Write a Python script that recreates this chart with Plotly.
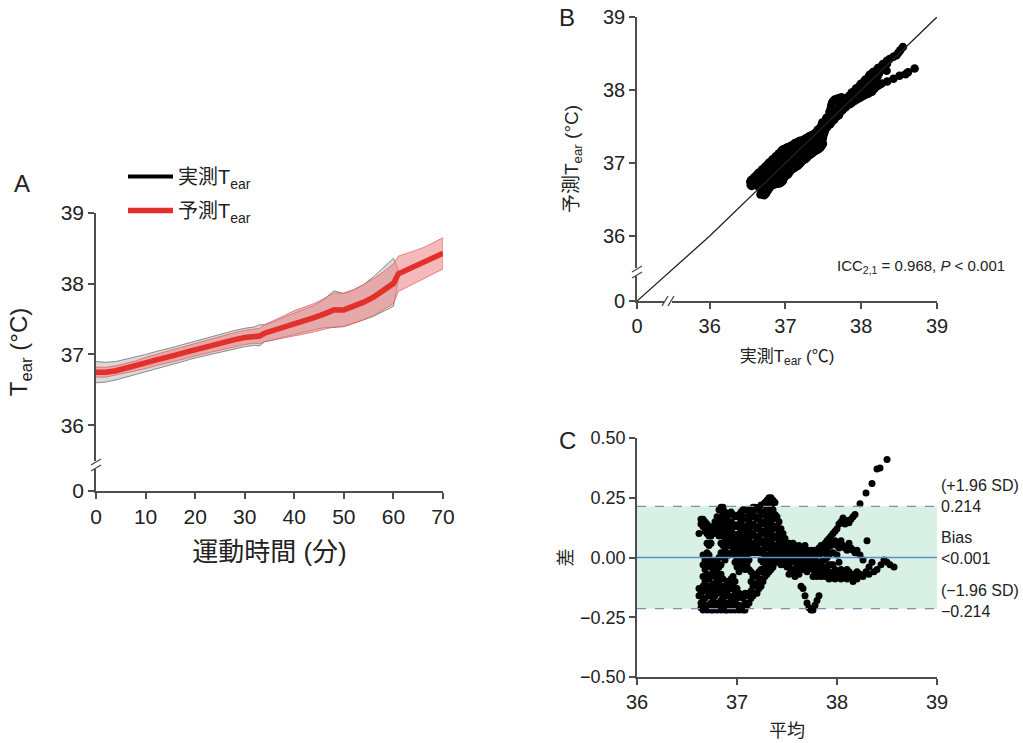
import plotly.graph_objects as go

W, H = 1023, 743
FONT = "Liberation Sans, Arial, Noto Sans CJK JP, sans-serif"
AXC = "#4d4d4d"

# ---------------- Panel A data ----------------
time_min = [0, 2, 4, 6, 8, 10, 12, 14, 16, 18, 20, 22, 24, 26, 28, 30, 32, 33, 34, 36, 38,
            40, 42, 44, 46, 48, 50, 52, 54, 56, 58, 60, 61, 62, 64, 66, 68, 70]
pred_mean = [36.75, 36.75, 36.77, 36.80, 36.84, 36.88, 36.92, 36.95, 36.99, 37.03, 37.07,
             37.10, 37.14, 37.17, 37.21, 37.24, 37.26, 37.26, 37.30, 37.34, 37.39, 37.44,
             37.48, 37.52, 37.57, 37.63, 37.63, 37.68, 37.74, 37.81, 37.90, 38.00, 38.14,
             38.17, 38.23, 38.29, 38.36, 38.43]
pred_sd = [0.07, 0.07, 0.07, 0.07, 0.07, 0.08, 0.08, 0.08, 0.08, 0.09, 0.09, 0.09, 0.09,
           0.10, 0.10, 0.10, 0.10, 0.11, 0.12, 0.14, 0.16, 0.18, 0.19, 0.20, 0.22, 0.24,
           0.24, 0.24, 0.25, 0.26, 0.27, 0.28, 0.25, 0.24, 0.23, 0.22, 0.22, 0.22]
meas_time = time_min[:33]
meas_mean = [36.75, 36.75, 36.77, 36.80, 36.84, 36.88, 36.92, 36.95, 36.99, 37.03, 37.07,
             37.10, 37.14, 37.17, 37.21, 37.24, 37.26, 37.27, 37.30, 37.34, 37.39, 37.44,
             37.48, 37.52, 37.58, 37.64, 37.63, 37.68, 37.74, 37.82, 37.92, 38.02, 38.13]
meas_sd = [0.15, 0.14, 0.13, 0.13, 0.13, 0.12, 0.12, 0.12, 0.12, 0.12, 0.12, 0.12, 0.12,
           0.13, 0.13, 0.13, 0.13, 0.15, 0.12, 0.13, 0.14, 0.15, 0.16, 0.17, 0.20, 0.26,
           0.23, 0.23, 0.25, 0.28, 0.31, 0.34, 0.06]
a_xticks = [0, 10, 20, 30, 40, 50, 60, 70]
a_yticks = [36, 37, 38, 39]

# ---------------- Panel C data: mean -> list of differences (measured - predicted) ----
ba_columns = [
    (36.62, [0.10, -0.13, -0.16]),
    (36.64, [0.16, 0.14, -0.15, -0.19, -0.21]),
    (36.66, [0.16, 0.13, 0.01, -0.03, -0.08, -0.12, -0.18, -0.22]),
    (36.68, [0.15, 0.11, -0.01, -0.05, -0.10, -0.14, -0.17, -0.21]),
    (36.70, [0.14, 0.10, 0.06, 0.02, -0.03, -0.07, -0.13, -0.20, -0.22]),
    (36.72, [0.13, 0.09, 0.05, 0.01, -0.02, -0.09, -0.12, -0.16, -0.21]),
    (36.74, [0.12, 0.09, 0.06, -0.01, -0.04, -0.08, -0.14, -0.19, -0.22]),
    (36.76, [0.13, 0.10, -0.02, -0.06, -0.11, -0.15, -0.18, -0.22]),
    (36.78, [0.15, 0.11, -0.03, -0.07, -0.12, -0.16, -0.20]),
    (36.80, [0.17, 0.13, 0.10, -0.01, -0.05, -0.09, -0.13, -0.19, -0.22]),
    (36.82, [0.20, 0.16, 0.12, 0.09, 0.00, -0.04, -0.10, -0.15, -0.20]),
    (36.84, [0.21, 0.17, 0.14, 0.10, 0.06, 0.02, -0.03, -0.07, -0.12, -0.18, -0.22]),
    (36.86, [0.21, 0.18, 0.13, 0.09, 0.05, 0.01, -0.09, -0.14, -0.17, -0.21]),
    (36.88, [0.19, 0.15, 0.11, 0.07, 0.03, -0.01, -0.12, -0.16, -0.20, -0.22]),
    (36.90, [0.17, 0.14, 0.10, 0.06, 0.02, -0.10, -0.14, -0.19, -0.22]),
    (36.92, [0.18, 0.13, 0.09, 0.05, 0.01, -0.11, -0.16, -0.21]),
    (36.94, [0.19, 0.15, 0.11, 0.07, -0.09, -0.13, -0.18, -0.22]),
    (36.96, [0.18, 0.14, 0.10, 0.06, 0.03, -0.08, -0.12, -0.17, -0.20]),
    (36.98, [0.17, 0.13, 0.09, 0.05, 0.01, -0.02, -0.10, -0.15, -0.19, -0.22]),
    (37.00, [0.17, 0.13, 0.08, 0.04, 0.00, -0.04, -0.13, -0.17, -0.21]),
    (37.02, [0.18, 0.14, 0.10, 0.06, 0.02, -0.02, -0.06, -0.15, -0.20, -0.22]),
    (37.04, [0.19, 0.15, 0.12, 0.08, 0.04, 0.00, -0.04, -0.16, -0.21]),
    (37.06, [0.20, 0.16, 0.13, 0.09, 0.05, 0.01, -0.03, -0.17, -0.22]),
    (37.08, [0.20, 0.17, 0.13, 0.10, 0.06, 0.02, -0.02, -0.05, -0.15, -0.19, -0.22]),
    (37.10, [0.20, 0.16, 0.12, 0.08, 0.04, 0.00, -0.03, -0.16, -0.20]),
    (37.12, [0.19, 0.15, 0.11, 0.07, 0.03, -0.01, -0.05, -0.15, -0.19]),
    (37.14, [0.20, 0.17, 0.13, 0.09, 0.05, 0.02, -0.06, -0.10, -0.14, -0.17]),
    (37.16, [0.21, 0.18, 0.14, 0.10, 0.06, 0.03, -0.08, -0.12, -0.16]),
    (37.18, [0.21, 0.17, 0.13, 0.09, 0.05, 0.02, -0.07, -0.11, -0.15]),
    (37.20, [0.20, 0.16, 0.12, 0.08, 0.04, -0.08, -0.12, -0.15]),
    (37.22, [0.21, 0.17, 0.13, 0.09, 0.06, 0.02, -0.06, -0.10, -0.13]),
    (37.24, [0.22, 0.19, 0.15, 0.11, 0.07, 0.03, -0.01, -0.05, -0.09, -0.12]),
    (37.26, [0.22, 0.18, 0.14, 0.10, 0.06, 0.02, -0.02, -0.06, -0.10]),
    (37.28, [0.23, 0.19, 0.15, 0.11, 0.07, 0.04, 0.00, -0.04, -0.08]),
    (37.30, [0.24, 0.20, 0.16, 0.12, 0.08, 0.04, 0.01, -0.03, -0.07]),
    (37.32, [0.25, 0.21, 0.17, 0.13, 0.09, 0.05, 0.01, -0.02, -0.06]),
    (37.34, [0.25, 0.22, 0.18, 0.14, 0.10, 0.06, 0.03, -0.01, -0.05]),
    (37.36, [0.24, 0.20, 0.16, 0.12, 0.08, 0.04, 0.00, -0.04]),
    (37.38, [0.23, 0.18, 0.13, 0.09, 0.05, 0.01, -0.02]),
    (37.40, [0.17, 0.13, 0.09, 0.05, 0.02, -0.02]),
    (37.42, [0.15, 0.11, 0.07, 0.03, -0.01]),
    (37.44, [0.12, 0.08, 0.04, 0.00, -0.03]),
    (37.46, [0.10, 0.06, 0.02, -0.02]),
    (37.48, [0.08, 0.04, 0.00, -0.03]),
    (37.50, [0.05, 0.02, -0.01, -0.04]),
    (37.52, [0.06, 0.03, 0.00, -0.04, -0.07]),
    (37.54, [0.04, 0.01, -0.02, -0.05]),
    (37.56, [0.06, 0.03, -0.01, -0.05]),
    (37.58, [0.05, 0.02, -0.02, -0.06, -0.08]),
    (37.60, [0.04, 0.01, -0.03, -0.06]),
    (37.62, [0.05, 0.02, -0.01, -0.04, -0.07]),
    (37.64, [0.03, 0.00, -0.03, -0.12]),
    (37.66, [0.04, 0.01, -0.02, -0.05, -0.13]),
    (37.68, [0.05, 0.02, -0.01, -0.04, -0.16]),
    (37.70, [0.03, 0.00, -0.03, -0.06, -0.19]),
    (37.72, [0.02, -0.01, -0.04, -0.21]),
    (37.74, [0.03, 0.00, -0.03, -0.22]),
    (37.76, [0.02, -0.01, -0.05, -0.08, -0.22]),
    (37.78, [0.03, 0.00, -0.04, -0.07, -0.20]),
    (37.80, [0.02, -0.02, -0.05, -0.08, -0.18]),
    (37.82, [0.04, 0.01, -0.03, -0.06, -0.16]),
    (37.84, [0.05, 0.02, -0.02, -0.05, -0.08]),
    (37.86, [0.05, 0.02, -0.01, -0.04, -0.07]),
    (37.88, [0.06, 0.03, -0.01, -0.05, -0.08]),
    (37.90, [0.07, 0.04, 0.00, -0.04, -0.07]),
    (37.92, [0.08, 0.05, 0.01, -0.03, -0.06, -0.09]),
    (37.94, [0.09, 0.05, 0.02, -0.03, -0.07]),
    (37.96, [0.10, 0.06, 0.02, -0.03, -0.08]),
    (37.98, [0.11, 0.07, -0.05, -0.09]),
    (38.00, [0.12, 0.05, 0.01, -0.06]),
    (38.02, [0.14, 0.04, -0.02, -0.08]),
    (38.04, [0.15, 0.07, -0.05, -0.09]),
    (38.06, [0.165, 0.05, -0.06]),
    (38.08, [0.14, 0.04, -0.08]),
    (38.10, [0.155, 0.03, -0.05, -0.09]),
    (38.12, [0.145, 0.06, -0.06]),
    (38.14, [0.16, 0.04, -0.08]),
    (38.16, [0.17, 0.03, -0.07, -0.10]),
    (38.18, [0.18, 0.02, -0.08]),
    (38.20, [0.03, -0.06, -0.09]),
    (38.23, [0.225, 0.01, -0.07]),
    (38.26, [-0.01, -0.08]),
    (38.29, [0.27, -0.06]),
    (38.30, [0.07]),
    (38.32, [-0.07, -0.04]),
    (38.35, [0.31, -0.02]),
    (38.37, [-0.06]),
    (38.40, [0.37, -0.05]),
    (38.43, [0.375]),
    (38.44, [-0.03]),
    (38.47, [-0.01]),
    (38.50, [0.41, -0.02]),
    (38.53, [-0.03]),
    (38.57, [-0.04]),
]
ba_mean = [m for m, ds in ba_columns for _ in ds]
ba_diff = [d for _, ds in ba_columns for d in ds]
bias = 0.0
loa_upper = 0.214
loa_lower = -0.214
c_xticks = [36, 37, 38, 39]
c_yticks = [-0.5, -0.25, 0, 0.25, 0.5]

# Panel B: measured / predicted pairs behind the Bland-Altman points
b_measured = [m + d / 2 for m, d in zip(ba_mean, ba_diff)]
b_predicted = [m - d / 2 for m, d in zip(ba_mean, ba_diff)]
b_ticks = [36, 37, 38, 39]
icc_text = "ICC<sub>2,1</sub> = 0.968, <i>P</i> &lt; 0.001"

# ---------------- layout constants (pixels) ----------------
A_X = (96, 443); A_Y = (491, 213)
B_X = (637, 937); B_Y = (301, 17)
C_X = (637, 937); C_Y = (677, 438)
A_ZERO_Y = 35.07            # where the broken A y-axis shows "0"
B_ZERO_X, B_ZERO_Y = 35.04, 35.11


def dx(px):
    return px / W


def dy(py):
    return 1 - py / H


def dom_x(p):
    return [dx(p[0]), dx(p[1])]


def dom_y(p):
    return [dy(p[0]), dy(p[1])]


fig = go.Figure()

# Panel A
upper = [m + s for m, s in zip(meas_mean, meas_sd)]
lower = [m - s for m, s in zip(meas_mean, meas_sd)]
fig.add_trace(go.Scatter(x=meas_time + meas_time[::-1], y=upper + lower[::-1],
                         fill="toself", fillcolor="rgba(185,185,185,0.55)",
                         line=dict(color="rgba(120,120,120,0.85)", width=1),
                         showlegend=False, hoverinfo="skip", xaxis="x", yaxis="y"))
fig.add_trace(go.Scatter(x=meas_time, y=meas_mean, mode="lines", name="実測T<sub>ear</sub>",
                         line=dict(color="black", width=4), legendgroup="m",
                         xaxis="x", yaxis="y"))
pu = [m + s for m, s in zip(pred_mean, pred_sd)]
pl = [m - s for m, s in zip(pred_mean, pred_sd)]
fig.add_trace(go.Scatter(x=time_min + time_min[::-1], y=pu + pl[::-1],
                         fill="toself", fillcolor="rgba(240,135,135,0.58)",
                         line=dict(color="rgba(225,90,90,0.7)", width=1),
                         showlegend=False, hoverinfo="skip", xaxis="x", yaxis="y"))
fig.add_trace(go.Scatter(x=time_min, y=pred_mean, mode="lines", name="予測T<sub>ear</sub>",
                         line=dict(color="#e3302b", width=5.5), legendgroup="p",
                         xaxis="x", yaxis="y"))

# Panel B
fig.add_trace(go.Scatter(x=b_measured, y=b_predicted, mode="markers",
                         marker=dict(color="black", size=8.5), showlegend=False,
                         xaxis="x2", yaxis="y2"))
fig.add_trace(go.Scatter(x=[B_ZERO_X, b_ticks[0], b_ticks[-1]],
                         y=[B_ZERO_Y, b_ticks[0], b_ticks[-1]], mode="lines",
                         line=dict(color="#222", width=1.3), showlegend=False,
                         xaxis="x2", yaxis="y2", cliponaxis=False))

# Panel C
fig.add_trace(go.Scatter(x=ba_mean, y=ba_diff, mode="markers",
                         marker=dict(color="black", size=7), showlegend=False,
                         xaxis="x3", yaxis="y3"))

axis_common = dict(showline=True, linecolor=AXC, linewidth=1.6, ticks="outside",
                   ticklen=6, tickwidth=1.6, tickcolor=AXC, showgrid=False,
                   zeroline=False, automargin=False, color="#222")

fig.update_layout(
    width=W, height=H, margin=dict(l=0, r=0, t=0, b=0),
    paper_bgcolor="white", plot_bgcolor="rgba(0,0,0,0)",
    font=dict(family=FONT, color="#222"),
    xaxis=dict(domain=dom_x(A_X), range=[0, 70], anchor="y", tickvals=a_xticks,
               tickfont=dict(size=21),
               title=dict(text="運動時間 (分)", font=dict(size=26), standoff=16),
               **axis_common),
    yaxis=dict(domain=dom_y(A_Y), range=[A_ZERO_Y, 39], anchor="x",
               tickvals=[A_ZERO_Y] + a_yticks, ticktext=["0"] + [str(t) for t in a_yticks],
               tickfont=dict(size=21),
               title=dict(text="T<sub>ear</sub> (°C)", font=dict(size=24), standoff=26),
               **axis_common),
    xaxis2=dict(domain=dom_x(B_X), range=[B_ZERO_X, 39], anchor="y2",
                tickvals=[B_ZERO_X] + b_ticks, ticktext=["0"] + [str(t) for t in b_ticks],
                tickfont=dict(size=20),
                title=dict(text="実測T<sub>ear</sub> (℃)", font=dict(size=17), standoff=14),
                **axis_common),
    yaxis2=dict(domain=dom_y(B_Y), range=[B_ZERO_Y, 39], anchor="x2",
                tickvals=[B_ZERO_Y] + b_ticks, ticktext=["0"] + [str(t) for t in b_ticks],
                tickfont=dict(size=20),
                title=dict(text="予測T<sub>ear</sub> (°C)", font=dict(size=19), standoff=19),
                **axis_common),
    xaxis3=dict(domain=dom_x(C_X), range=[36, 39], anchor="y3", tickvals=c_xticks,
                tickfont=dict(size=20),
                title=dict(text="平均", font=dict(size=18), standoff=13),
                **axis_common),
    yaxis3=dict(domain=dom_y(C_Y), range=[-0.5, 0.5], anchor="x3",
                tickvals=c_yticks, tickformat=".2f",
                tickfont=dict(size=18),
                title=dict(text="差", font=dict(size=18), standoff=3),
                **axis_common),
    legend=dict(x=dx(123), y=dy(157), xanchor="left", yanchor="top",
                font=dict(size=20), bgcolor="rgba(0,0,0,0)", tracegroupgap=5,
                itemwidth=45),
)

# Bland-Altman shading and lines
fig.add_shape(type="rect", xref="x3", yref="y3", x0=36, x1=39, y0=loa_lower, y1=loa_upper,
              fillcolor="rgba(196,232,214,0.65)", line=dict(width=0), layer="below")
for v in (loa_upper, loa_lower):
    fig.add_shape(type="line", xref="x3", yref="y3", x0=36, x1=39, y0=v, y1=v,
                  line=dict(color="#7d90b0", width=1.3, dash="dash"))
fig.add_shape(type="line", xref="x3", yref="y3", x0=36, x1=39, y0=bias, y1=bias,
              line=dict(color="#5a8fd0", width=1.3))


def vbreak(px, py):
    fig.add_shape(type="rect", xref="paper", yref="paper", x0=dx(px - 3), x1=dx(px + 3),
                  y0=dy(py + 4), y1=dy(py - 4), fillcolor="white", line=dict(width=0),
                  layer="above")
    for off in (-3, 3):
        fig.add_shape(type="line", xref="paper", yref="paper",
                      x0=dx(px - 5), y0=dy(py + off + 3), x1=dx(px + 5), y1=dy(py + off - 3),
                      line=dict(color=AXC, width=1.4), layer="above")


def hbreak(px, py):
    fig.add_shape(type="rect", xref="paper", yref="paper", x0=dx(px - 4), x1=dx(px + 4),
                  y0=dy(py + 3), y1=dy(py - 3), fillcolor="white", line=dict(width=0),
                  layer="above")
    for off in (-3, 3):
        fig.add_shape(type="line", xref="paper", yref="paper",
                      x0=dx(px + off - 3), y0=dy(py + 5), x1=dx(px + off + 3), y1=dy(py - 5),
                      line=dict(color=AXC, width=1.4), layer="above")


vbreak(96, 465)
vbreak(637, 272)
hbreak(668, 301)

ann = []
for txt, px, py in (("A", 22, 184), ("B", 567, 18), ("C", 567, 441)):
    ann.append(dict(text=txt, x=dx(px), y=dy(py), xref="paper", yref="paper",
                    xanchor="center", yanchor="middle", showarrow=False,
                    font=dict(size=24, color="#222")))
ann.append(dict(text=icc_text, x=dx(835), y=dy(266), xref="paper", yref="paper",
                xanchor="left", showarrow=False, font=dict(size=15)))
for txt, py in (("(+1.96 SD)", 496), ("%.3f" % loa_upper, 517), ("Bias", 548),
                ("&lt;0.001", 569), ("(−1.96 SD)", 601), ("−%.3f" % abs(loa_lower), 622)):
    ann.append(dict(text=txt, x=dx(939), y=dy(py), xref="paper", yref="paper",
                    xanchor="left", showarrow=False, font=dict(size=16)))
fig.update_layout(annotations=ann)

fig.write_html("out.html", config={"displayModeBar": False},
               post_script="document.body.style.margin='0px';")
